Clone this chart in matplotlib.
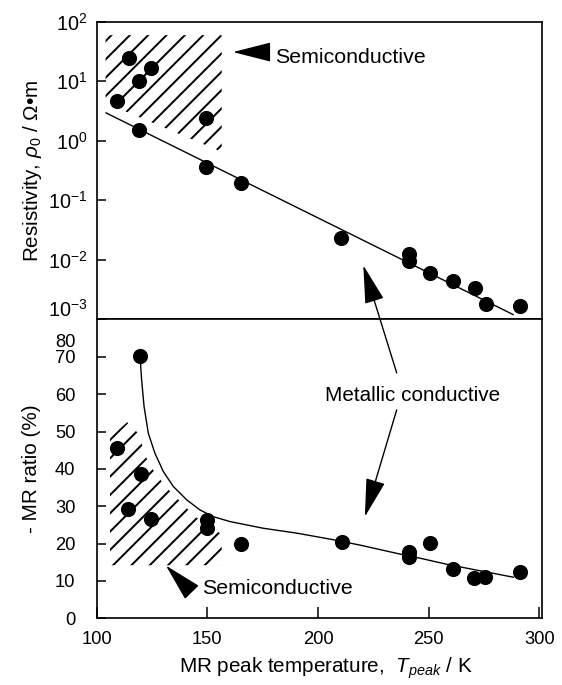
import numpy as np
import matplotlib
matplotlib.use('Agg')
import matplotlib.pyplot as plt
from matplotlib.patches import Polygon
from matplotlib.ticker import NullLocator
from matplotlib.transforms import ScaledTranslation

plt.rcParams['font.family'] = ['Liberation Sans', 'DejaVu Sans']
plt.rcParams['mathtext.fontset'] = 'custom'
plt.rcParams['mathtext.rm'] = 'Liberation Sans'
plt.rcParams['mathtext.it'] = 'Liberation Sans:italic'
plt.rcParams['mathtext.bf'] = 'Liberation Sans:bold'
plt.rcParams['axes.unicode_minus'] = False
plt.rcParams['hatch.linewidth'] = 1.3

# ----- datos -----
# panel superior: resistividad vs temperatura de pico MR
t_rho = [109, 114.5, 119, 124.5, 119, 149.5, 149.5, 165, 210.5, 241, 241, 250.5, 261, 271, 276, 291.5]
rho = [4.67, 24.1, 10.0, 16.7, 1.54, 2.45, 0.36, 0.195, 0.0236, 0.0124, 0.0095, 0.0060, 0.0045, 0.0034, 0.0018, 0.0017]
t_fit_rho = [104.2, 288.2]
rho_fit = [2.93, 0.00121]
# zona semiconductora (rayada) panel superior
t_hatch_top = [104, 156.5, 156.5, 104]
rho_hatch_top = [59, 59, 0.65, 4.3]

# panel inferior: -MR ratio vs temperatura
t_mr = [119.6, 109.3, 119.9, 114.3, 124.5, 150, 150, 165, 210.7, 241, 241, 250.8, 261, 270.5, 275.7, 291.5]
mr = [70.1, 45.7, 38.6, 29.2, 26.6, 26.3, 24.1, 19.9, 20.5, 17.8, 16.5, 20.1, 13.2, 10.7, 11.1, 12.5]
t_curve = [119.6, 120.3, 121.4, 123.3, 126.3, 130.1, 134.6, 140.7, 146.7, 152.7, 160.2, 175.3, 190.4,
           205.4, 219, 237, 246, 259.5, 288.3]
mr_curve = [70.1, 63.8, 56.7, 49.6, 44.2, 39.3, 35.3, 31.7, 29.0, 27.2, 25.9, 24.1, 22.8,
            21.2, 19.6, 17.2, 16.1, 14.3, 11.0]
t_hatch_bot = [106, 156.5, 156.5, 144.5, 140.7, 131, 123.3, 118.8, 113.8, 106]
mr_hatch_bot = [14.2, 14.2, 22.5, 27.2, 29.5, 35.3, 41.5, 49.5, 52.5, 48.5]

xticks = [100, 150, 200, 250, 300]
mr_ticks = [0, 10, 20, 30, 40, 50, 60, 70, 80]

dpi = 110
fig = plt.figure(figsize=(562 / dpi, 685 / dpi), dpi=dpi)
ax1 = fig.add_axes([0.1721, 0.5336, 0.7932, 0.435])
ax2 = fig.add_axes([0.1721, 0.0974, 0.7932, 0.4362])

msize = 8.9
arrow_kw = dict(arrowstyle='-|>,head_length=1.1,head_width=0.28', mutation_scale=20,
                fc='k', ec='k', lw=0.9, shrinkA=0, shrinkB=0)

# ----- panel superior -----
ax1.set_yscale('log')
ax1.add_patch(Polygon(np.column_stack([t_hatch_top, rho_hatch_top]), closed=True,
                      fill=False, hatch='//', edgecolor='k', lw=0))
ax1.plot(t_fit_rho, rho_fit, color='k', lw=0.9)
ax1.plot(t_rho, rho, 'o', color='k', ms=msize)
ax1.set_xlim(100, 301.5)
ax1.set_ylim(1e-3, 1e2)
ax1.yaxis.set_minor_locator(NullLocator())
ax1.tick_params(axis='x', bottom=False, labelbottom=False)
ax1.tick_params(axis='y', direction='in', length=6, width=1, pad=6.3, labelsize=13)
ax1.set_ylabel(r'Resistivity, $\rho_{\mathit{0}}$ / $\Omega$•m', fontsize=13.5)
ax1.yaxis.set_label_coords(-0.119, 0.5)

ax1.annotate('', xy=(161.6, 30.7), xytext=(177.4, 30.7), arrowprops=arrow_kw)
ax1.text(180.7, 25.3, 'Semiconductive', fontsize=14, ha='left', va='center')

# ----- panel inferior -----
ax2.add_patch(Polygon(np.column_stack([t_hatch_bot, mr_hatch_bot]), closed=True,
                      fill=False, hatch='//', edgecolor='k', lw=0))
ax2.plot(t_curve, mr_curve, color='k', lw=0.9)
ax2.plot(t_mr, mr, 'o', color='k', ms=msize)
ax2.set_xlim(100, 301.5)
ax2.set_ylim(0, 80)
ax2.set_xticks(xticks)
ax2.set_yticks(mr_ticks)
ax2.tick_params(axis='x', direction='in', length=7, width=1, pad=8.5, labelsize=12)
ax2.tick_params(axis='y', direction='in', length=6, width=1, pad=14, labelsize=12)
ax2.set_ylabel('- MR ratio (%)', fontsize=13.5)
ax2.yaxis.set_label_coords(-0.125, 0.5)
ax2.set_xlabel(r'MR peak temperature,  $T_{peak}$ / K', fontsize=13.5)
ax2.xaxis.set_label_coords(0.514, -0.125)

ax2.annotate('', xy=(131.3, 14.1), xytext=(141.8, 7.7), arrowprops=arrow_kw)
ax2.text(147.4, 7.85, 'Semiconductive', fontsize=14, ha='left', va='center')

ax2.text(242.9, 59.7, 'Metallic conductive', fontsize=13.5, ha='center', va='center')
ax2.annotate('', xy=(220.5, 0.0081), xycoords=ax1.transData, xytext=(235.6, 65.7),
             textcoords='data', arrowprops=arrow_kw, annotation_clip=False)
ax2.annotate('', xy=(221.2, 27.2), xytext=(235.6, 55.8), arrowprops=arrow_kw)

for ax in (ax1, ax2):
    for s in ax.spines.values():
        s.set_linewidth(1.1)

# desplazar etiquetas que chocan en la union de los paneles
fig.canvas.draw()
for lab in ax1.get_yticklabels():
    if lab.get_position()[1] <= 1.001e-3:
        lab.set_transform(lab.get_transform() + ScaledTranslation(0, 7.5 / 72, fig.dpi_scale_trans))
for lab in ax2.get_yticklabels():
    if lab.get_position()[1] >= 79.9:
        lab.set_transform(lab.get_transform() + ScaledTranslation(0, -13.5 / 72, fig.dpi_scale_trans))

plt.savefig('out.png', dpi=dpi)
